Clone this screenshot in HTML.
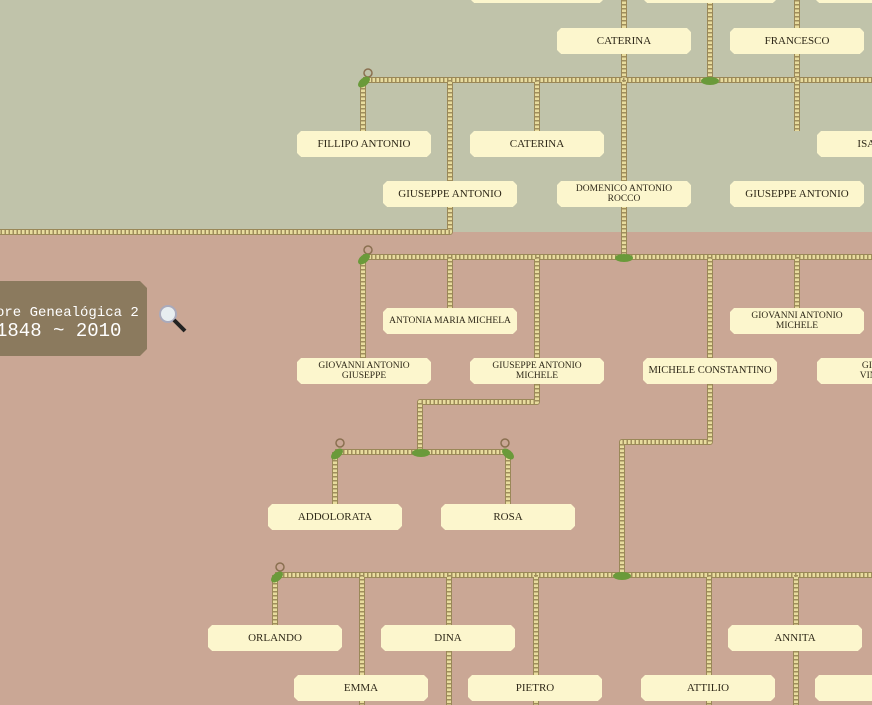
<!DOCTYPE html>
<html><head><meta charset="utf-8"><style>
body{margin:0;width:872px;height:705px;overflow:hidden;position:relative;background:#caa795;font-family:"Liberation Serif",serif}
.b{position:absolute;width:134px;height:26px;background:#fcf6cd;box-shadow:1px 2px 2px rgba(0,0,0,.3);display:flex;align-items:center;justify-content:center;text-align:center;font-size:11px;line-height:10px;color:#2e2818;white-space:nowrap;clip-path:polygon(4px 0,calc(100% - 4px) 0,100% 4px,100% calc(100% - 4px),calc(100% - 4px) 100%,4px 100%,0 calc(100% - 4px),0 4px)}
.s{font-size:9.5px}
svg{position:absolute;left:0;top:0}
</style></head><body>
<svg width="872" height="705">
<defs>
<path id="p" d="M363 80H872M363 80V131M450 80V232H0M537 80V131M624 0V257M710 0V80M797 0V131M363 257H872M363 257V358M450 257V308M537 257V358M710 257V358M797 257V308M537 384V402H420V452M335 452H508M335 452V505M508 452V505M710 384V442H622V575M275 575H872M275 575V625M362 575V705M449 575V705M536 575V705M709 575V705M796 575V705"/>
</defs>
<rect x="0" y="0" width="872" height="232" fill="#c0c3aa"/>
<g fill="none" stroke-linejoin="round">
<use href="#p" stroke="#9a8858" stroke-width="6"/>
<use href="#p" stroke="#e8dc9e" stroke-width="4"/>
<use href="#p" stroke="#a08e5c" stroke-width="4" stroke-dasharray="1.5 2.5"/>
</g>
<g fill="none" stroke="#8a7050" stroke-width="1.5">
<circle cx="368" cy="73" r="4"/><circle cx="368" cy="250" r="4"/><circle cx="340" cy="443" r="4"/><circle cx="505" cy="443" r="4"/><circle cx="280" cy="567" r="4"/>
</g>
<g fill="#6a9a3a">
<ellipse cx="364" cy="82" rx="7" ry="4" transform="rotate(-40 364 82)"/>
<ellipse cx="364" cy="259" rx="7" ry="4" transform="rotate(-40 364 259)"/>
<ellipse cx="337" cy="454" rx="7" ry="4" transform="rotate(-40 337 454)"/>
<ellipse cx="508" cy="454" rx="7" ry="4" transform="rotate(40 508 454)"/>
<ellipse cx="277" cy="577" rx="7" ry="4" transform="rotate(-40 277 577)"/>
<ellipse cx="710" cy="81" rx="9" ry="4"/><ellipse cx="624" cy="258" rx="9" ry="4"/><ellipse cx="421" cy="453" rx="9" ry="4"/><ellipse cx="622" cy="576" rx="9" ry="4"/>
</g>
<path d="M0 281H140L147 288V349L140 356H0Z" fill="#8b7a5e"/>
<circle cx="168" cy="314" r="8" fill="#e8eef0" stroke="#aab" stroke-width="2"/>
<line x1="174" y1="320" x2="185" y2="331" stroke="#222" stroke-width="4"/>
<text x="-4" y="316" fill="#fff" font-family="Liberation Mono,monospace" font-size="14">ore Genealógica 2</text>
<text x="-4" y="336" fill="#fff" font-family="Liberation Mono,monospace" font-size="19">1848 ~ 2010</text>
</svg>
<div class="b" style="left:470px;top:-23px"></div><div class="b" style="left:643px;top:-23px"></div><div class="b" style="left:815px;top:-23px"></div>
<div class="b" style="left:557px;top:28px">CATERINA</div>
<div class="b" style="left:730px;top:28px">FRANCESCO</div>
<div class="b" style="left:297px;top:131px">FILLIPO ANTONIO</div>
<div class="b" style="left:470px;top:131px">CATERINA</div>
<div class="b" style="left:817px;top:131px">ISABELLA</div>
<div class="b" style="left:383px;top:181px">GIUSEPPE ANTONIO</div>
<div class="b s" style="left:557px;top:181px">DOMENICO ANTONIO<br>ROCCO</div>
<div class="b" style="left:730px;top:181px">GIUSEPPE ANTONIO</div>
<div class="b s" style="left:383px;top:308px">ANTONIA MARIA MICHELA</div>
<div class="b s" style="left:730px;top:308px">GIOVANNI ANTONIO<br>MICHELE</div>
<div class="b s" style="left:297px;top:358px">GIOVANNI ANTONIO<br>GIUSEPPE</div>
<div class="b s" style="left:470px;top:358px">GIUSEPPE ANTONIO<br>MICHELE</div>
<div class="b" style="left:643px;top:358px;font-size:10.5px">MICHELE CONSTANTINO</div>
<div class="b s" style="left:817px;top:358px">GIUSEPPE<br>VINCENZO</div>
<div class="b" style="left:268px;top:504px">ADDOLORATA</div>
<div class="b" style="left:441px;top:504px">ROSA</div>
<div class="b" style="left:208px;top:625px">ORLANDO</div>
<div class="b" style="left:381px;top:625px">DINA</div>
<div class="b" style="left:728px;top:625px">ANNITA</div>
<div class="b" style="left:294px;top:675px">EMMA</div>
<div class="b" style="left:468px;top:675px">PIETRO</div>
<div class="b" style="left:641px;top:675px">ATTILIO</div>
<div class="b" style="left:815px;top:675px"></div>
</body></html>
